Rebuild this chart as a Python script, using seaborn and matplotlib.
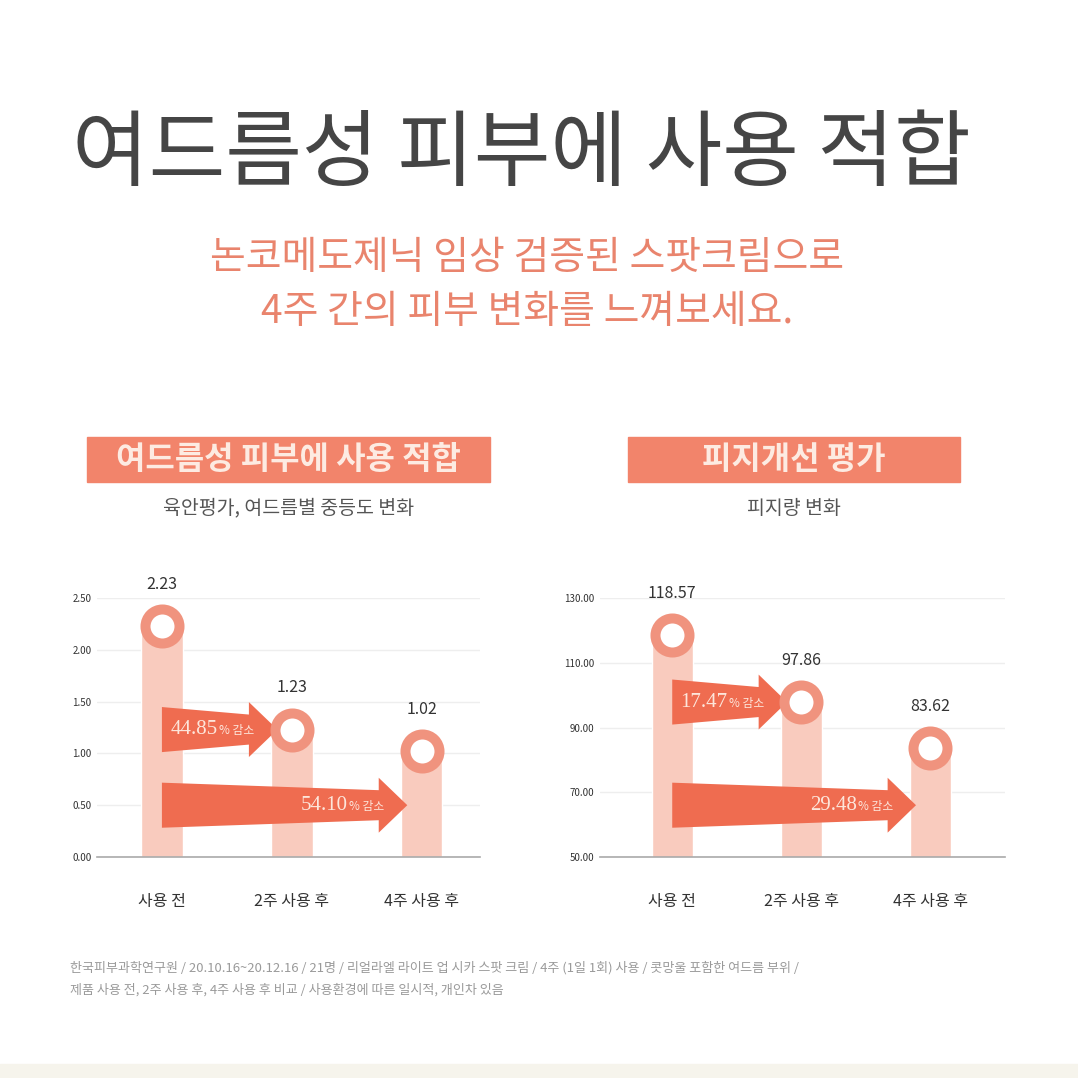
import numpy as np
import matplotlib
matplotlib.use("Agg")
from matplotlib import pyplot as plt
from matplotlib.patches import Polygon, Rectangle
from matplotlib.ticker import StrMethodFormatter
import seaborn as sns

# data
stages = ["사용 전", "2주 사용 후", "4주 사용 후"]
acne_scores = [2.23, 1.23, 1.02]
sebum_values = [118.57, 97.86, 83.62]
acne_drops = ["44.85", "54.10"]
sebum_drops = ["17.47", "29.48"]
acne_ticks = [0.0, 0.5, 1.0, 1.5, 2.0, 2.5]
sebum_ticks = [50, 70, 90, 110, 130]

title = "여드름성 피부에 사용 적합"
sub_lines = ["논코메도제닉 임상 검증된 스팟크림으로", "4주 간의 피부 변화를 느껴보세요."]
left_head, left_sub = "여드름성 피부에 사용 적합", "육안평가, 여드름별 중등도 변화"
right_head, right_sub = "피지개선 평가", "피지량 변화"
foot_lines = [
    "한국피부과학연구원 / 20.10.16~20.12.16 / 21명 / 리얼라엘 라이트 업 시카 스팟 크림 / 4주 (1일 1회) 사용 / 콧망울 포함한 여드름 부위 /",
    "제품 사용 전, 2주 사용 후, 4주 사용 후 비교 / 사용환경에 따른 일시적, 개인차 있음",
]

bar_col = "#F9CBBE"
ring_col = "#F0937E"
arrow_col = "#EF6C50"
head_col = "#F2846B"
accent = "#E9846D"

sns.set_theme(style="white")
plt.rcParams["font.family"] = ["Noto Sans CJK KR", "DejaVu Sans"]

W = 1078
fig = plt.figure(figsize=(10.78, 10.78), dpi=100)
fig.patch.set_facecolor("white")


def fy(py):
    return 1 - py / W


# headline texts
fig.text(0.484, fy(155), title, ha="center", va="center", fontsize=60, color="#454545")
fig.text(0.489, fy(258), sub_lines[0], ha="center", va="center", fontsize=28, color=accent)
fig.text(0.489, fy(312), sub_lines[1], ha="center", va="center", fontsize=28, color=accent)

# section header boxes
for x0, x1, head, sub in [(87, 490, left_head, left_sub), (628, 960, right_head, right_sub)]:
    fig.patches.append(Rectangle((x0 / W, fy(482)), (x1 - x0) / W, 45 / W,
                                 transform=fig.transFigure, color=head_col, zorder=0))
    xc = (x0 + x1) / 2 / W
    fig.text(xc, fy(460), head, ha="center", va="center", fontsize=23,
             fontweight="bold", color="#FDEBE2")
    fig.text(xc, fy(508), sub, ha="center", va="center", fontsize=14, color="#555555")


def draw_arrow(ax, x1, yc, label):
    x0, head_len = 0.0, 0.22
    hl, hr, hh = 0.087, 0.058, 0.106
    pts = [(x0, yc + hl), (x1 - head_len, yc + hr), (x1 - head_len, yc + hh), (x1, yc),
           (x1 - head_len, yc - hh), (x1 - head_len, yc - hr), (x0, yc - hl)]
    ax.add_patch(Polygon(pts, closed=True, color=arrow_col, lw=0, zorder=3,
                         transform=ax.get_xaxis_transform(), clip_on=False))
    xs = x1 - 0.46
    ax.text(xs, yc, label, ha="right", va="center", fontsize=15, color="#FDE6DB",
            family=["Liberation Serif", "DejaVu Serif"], transform=ax.get_xaxis_transform(), zorder=4)
    ax.text(xs + 0.01, yc - 0.005, "% 감소", ha="left", va="center", fontsize=8.5,
            color="#FDE6DB", transform=ax.get_xaxis_transform(), zorder=4)


def draw_chart(rect, values, ticks, drops, xlim):
    ax = fig.add_axes(rect)
    sns.barplot(x=stages, y=values, color=bar_col, width=0.32, saturation=1, ax=ax, zorder=2)
    ax.set_xlim(*xlim)
    ymin, ymax = ticks[0], ticks[-1]
    ax.set_ylim(ymin, ymax)
    ax.set_yticks(ticks)
    ax.yaxis.set_major_formatter(StrMethodFormatter("{x:.2f}"))
    ax.tick_params(axis="y", labelsize=7, colors="#333333", length=0, pad=4)
    ax.tick_params(axis="x", labelsize=11.5, colors="#333333", length=0, pad=26)
    ax.set_xlabel("")
    ax.set_ylabel("")
    ax.grid(axis="y", color="#EEEEEE", lw=1, zorder=0)
    for s in ["top", "right", "left"]:
        ax.spines[s].set_visible(False)
    ax.spines["bottom"].set_color("#AAAAAA")
    ax.spines["bottom"].set_linewidth(1.2)
    xs = np.arange(len(values))
    # arrows
    y_first = (values[1] - ymin) / (ymax - ymin)
    draw_arrow(ax, 1 - 0.11, y_first, drops[0])
    draw_arrow(ax, 2 - 0.11, 0.2, drops[1])
    # ring markers
    ax.scatter(xs, values, s=600, facecolor="white", edgecolor=ring_col, linewidth=7.2,
               zorder=5, clip_on=False)
    for x, v in zip(xs, values):
        ax.annotate(f"{v:.2f}", (x, v), xytext=(0, 30), textcoords="offset points",
                    ha="center", va="center", fontsize=11.5, color="#333333",
                    annotation_clip=False)
    return ax


draw_chart([97 / W, fy(857), 383 / W, 259 / W], acne_scores, acne_ticks, acne_drops, (-0.5, 2.45))
draw_chart([600 / W, fy(857), 405 / W, 259 / W], sebum_values, sebum_ticks, sebum_drops, (-0.56, 2.58))

# footnote
fig.text(70 / W, fy(968), foot_lines[0], ha="left", va="center", fontsize=9.4, color="#9A9A9A")
fig.text(70 / W, fy(990), foot_lines[1], ha="left", va="center", fontsize=9.4, color="#9A9A9A")

# faint strip at the bottom
fig.patches.append(Rectangle((0, 0), 1, 14 / W, transform=fig.transFigure,
                             color="#F6F4EC", zorder=0))

fig.savefig("out.png", dpi=100)
